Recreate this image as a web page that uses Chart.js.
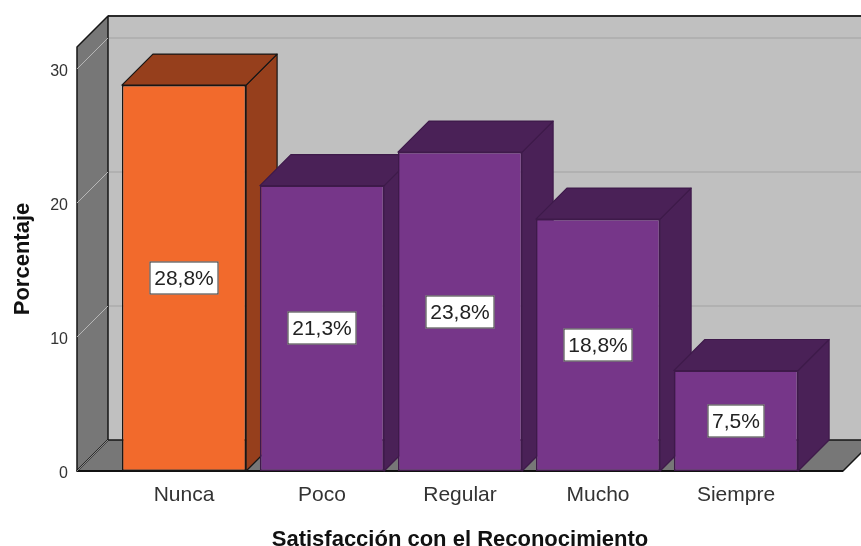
<!DOCTYPE html>
<html>
<head>
<meta charset="utf-8">
<script src="https://cdn.jsdelivr.net/npm/chart.js@4.4.1/dist/chart.umd.min.js"></script>
<style>
  html, body { margin: 0; padding: 0; background: #fff; }
</style>
</head>
<body>
<canvas id="chart" width="861" height="546"></canvas>
<script>
// data
const CATEGORIES = ['Nunca', 'Poco', 'Regular', 'Mucho', 'Siempre'];
const PERCENTS   = [28.8, 21.3, 23.8, 18.8, 7.5];
const Y_TICKS    = [0, 10, 20, 30];
const Y_MAX      = 31.64;

// styles
const FONT  = '"Liberation Sans", Arial, sans-serif';
const FRONT = ['#f26a2c', '#763689', '#763689', '#763689', '#763689'];
const DARK  = ['#963f1c', '#4a2157', '#4a2157', '#4a2157', '#4a2157'];
const EDGE  = ['#161616', '#3e1a4a', '#3e1a4a', '#3e1a4a', '#3e1a4a'];
const DX = 31, DY = -31, WALL_PAD = 38;

const fmt = v => v.toFixed(1).replace('.', ',') + '%';

function poly(ctx, pts, fill, stroke, lw) {
  ctx.beginPath();
  pts.forEach(([x, y], i) => i ? ctx.lineTo(x, y) : ctx.moveTo(x, y));
  ctx.closePath();
  if (fill) { ctx.fillStyle = fill; ctx.fill(); }
  if (stroke) { ctx.strokeStyle = stroke; ctx.lineWidth = lw || 1.2; ctx.lineJoin = 'round'; ctx.stroke(); }
}
function line(ctx, x0, y0, x1, y1, color, lw) {
  ctx.beginPath(); ctx.moveTo(x0, y0); ctx.lineTo(x1, y1);
  ctx.strokeStyle = color; ctx.lineWidth = lw; ctx.stroke();
}

// walls, floor and the top/side faces of the bars (front faces are the native bars)
const box3d = {
  id: 'box3d',
  beforeDatasetsDraw(chart) {
    const { ctx, chartArea: a, scales: { y } } = chart;
    const x0 = a.left - WALL_PAD, x1 = a.right + WALL_PAD;
    const yb = y.getPixelForValue(0), yt = a.top;
    ctx.save();
    // back wall
    poly(ctx, [[x0 + DX, yt + DY], [chart.width + 5, yt + DY], [chart.width + 5, yb + DY], [x0 + DX, yb + DY]], '#c0c0c0');
    line(ctx, x0 + DX, yt + DY, chart.width, yt + DY, '#2a2a2a', 2);
    Y_TICKS.slice(1).forEach(v => {
      const py = y.getPixelForValue(v) + DY;
      line(ctx, x0 + DX, py, chart.width, py, '#acacac', 1.5);
    });
    // left wall
    poly(ctx, [[x0, yt], [x0 + DX, yt + DY], [x0 + DX, yb + DY], [x0, yb]], '#777777', '#161616', 1.5);
    Y_TICKS.slice(1).forEach(v => {
      const py = y.getPixelForValue(v);
      line(ctx, x0, py, x0 + DX, py + DY, '#b8b8b8', 1);
    });
    // floor
    poly(ctx, [[x0, yb], [x0 + DX, yb + DY], [x1 + DX, yb + DY], [x1, yb]], '#777777', '#161616', 1.5);
    line(ctx, x0, yb, x1, yb, '#111', 2);
    line(ctx, x0, yb, x0 + DX, yb + DY, '#8a8a8a', 1);

    const meta = chart.getDatasetMeta(0);
    meta.data.forEach((bar, i) => {
      const l = bar.x - bar.width / 2, r = bar.x + bar.width / 2, t = bar.y, b = bar.base;
      poly(ctx, [[r, t], [r + DX, t + DY], [r + DX, b + DY], [r, b]], DARK[i], EDGE[i], 1.2);
      poly(ctx, [[l, t], [l + DX, t + DY], [r + DX, t + DY], [r, t]], DARK[i], EDGE[i], 1.2);
    });
    ctx.restore();
  },
  afterDatasetsDraw(chart) {
    const { ctx } = chart;
    const meta = chart.getDatasetMeta(0);
    ctx.save();
    ctx.font = '21px ' + FONT;
    ctx.textAlign = 'center';
    ctx.textBaseline = 'middle';
    meta.data.forEach((bar, i) => {
      const txt = fmt(PERCENTS[i]);
      const w = Math.round(ctx.measureText(txt).width + 9), h = 33;
      const cx = Math.round(bar.x), cy = Math.round((bar.y + bar.base) / 2);
      ctx.fillStyle = '#fff';
      ctx.fillRect(cx - w / 2, cy - h / 2, w, h);
      ctx.strokeStyle = '#333';
      ctx.lineWidth = 1;
      ctx.strokeRect(cx - w / 2 + 0.5, cy - h / 2 + 0.5, w - 1, h - 1);
      ctx.fillStyle = '#222';
      ctx.fillText(txt, cx, cy + 1);
    });
    ctx.restore();
  }
};

new Chart(document.getElementById('chart').getContext('2d'), {
  type: 'bar',
  data: {
    labels: CATEGORIES,
    datasets: [{
      data: PERCENTS,
      backgroundColor: FRONT,
      borderColor: EDGE,
      borderWidth: 1.5,
      borderSkipped: false,
      barPercentage: 0.9,
      categoryPercentage: 1
    }]
  },
  options: {
    responsive: false,
    animation: false,
    layout: { padding: { top: 47, right: 56, left: 0, bottom: 0 } },
    plugins: { legend: { display: false }, tooltip: { enabled: false } },
    scales: {
      x: {
        grid: { display: false, drawTicks: false },
        border: { display: false },
        ticks: { padding: 12, color: '#333', font: { size: 21, family: FONT } },
        title: {
          display: true, text: 'Satisfacción con el Reconocimiento', color: '#111',
          font: { size: 22, weight: 'bold', family: FONT, lineHeight: 1 },
          padding: { top: 0, bottom: -5 }
        },
        afterFit(s) { s.height = 75; }
      },
      y: {
        min: 0, max: Y_MAX,
        afterBuildTicks(s) { s.ticks = Y_TICKS.map(v => ({ value: v })); },
        // tick length (not drawn) pushes the labels out to the front edge of the left wall
        grid: { display: false, drawTicks: true, tickLength: 47, color: 'rgba(0,0,0,0)' },
        border: { display: false },
        ticks: { padding: 0, labelOffset: 3, color: '#333', font: { size: 16, family: FONT } },
        title: {
          display: true, text: 'Porcentaje', color: '#111',
          font: { size: 22, weight: 'bold', family: FONT, lineHeight: 1.2 },
          padding: { top: 10, bottom: 0 }
        },
        afterFit(s) { s.width = 115; }
      }
    }
  },
  plugins: [box3d]
});
</script>
</body>
</html>
